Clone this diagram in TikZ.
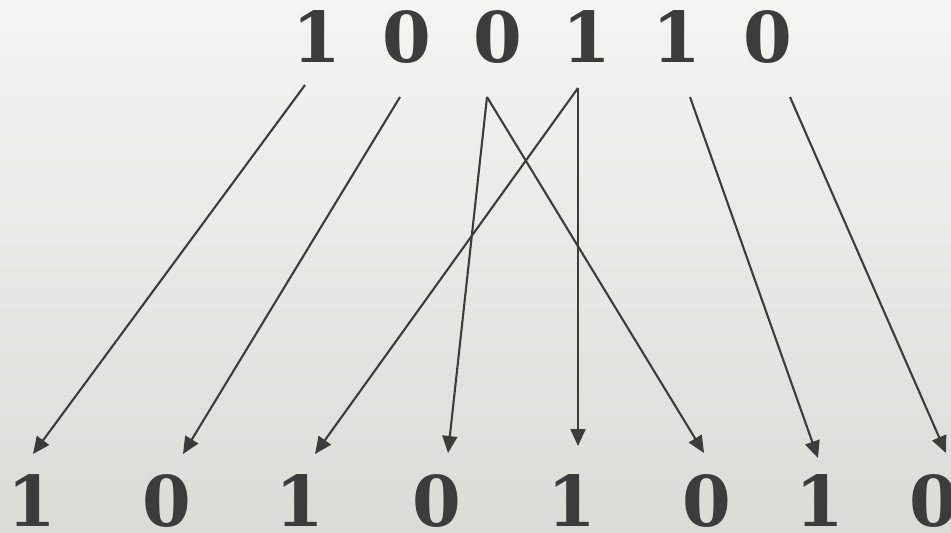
\documentclass[tikz,border=0pt]{standalone}
\usepackage{fontspec}
\setmainfont{DejaVu Serif}
\usetikzlibrary{arrows.meta}
\definecolor{ink}{HTML}{3C3C3C}
\definecolor{bgtop}{HTML}{F4F4F0}
\definecolor{bgbot}{HTML}{DCDCD7}
\tikzset{
  digit/.style={text=ink, font=\fontsize{70}{70}\selectfont\bfseries, inner sep=0pt, anchor=center},
  link/.style={draw=ink, line width=2.1pt, -{Triangle[length=17pt,width=15pt]}}
}
\begin{document}
\begin{tikzpicture}[x=1pt,y=-1pt]
\shade[top color=bgtop, bottom color=bgbot] (0,0) rectangle (951,533);
\useasboundingbox (0,0) rectangle (951,533);
% top row
\node[digit] (t1) at (317,37) {1};
\node[digit] (t2) at (407,37) {0};
\node[digit] (t3) at (498,37) {0};
\node[digit] (t4) at (587,37) {1};
\node[digit] (t5) at (677,37) {1};
\node[digit] (t6) at (768,37) {0};
% bottom row
\node[digit] (b1) at (32,501) {1};
\node[digit] (b2) at (167,501) {0};
\node[digit] (b3) at (300,501) {1};
\node[digit] (b4) at (437,501) {0};
\node[digit] (b5) at (572,501) {1};
\node[digit] (b6) at (707,501) {0};
\node[digit] (b7) at (820,501) {1};
\node[digit] (b8) at (934,501) {0};
% arrow ends
\coordinate (s1) at (305,85);
\coordinate (s2) at (400,97);
\coordinate (s3) at (487,97);
\coordinate (s4) at (578,88);
\coordinate (s5) at (690,97);
\coordinate (s6) at (790,97);
\coordinate (e1) at (33,454);
\coordinate (e2) at (183,454);
\coordinate (e3) at (315,454);
\coordinate (e4) at (448,453);
\coordinate (e5) at (578,446);
\coordinate (e6) at (704,453);
\coordinate (e7) at (818,458);
\coordinate (e8) at (946,453);
\draw[link] (s1) -- (e1);
\draw[link] (s2) -- (e2);
\draw[link] (s3) -- (e4);
\draw[link] (s3) -- (e6);
\draw[link] (s4) -- (e3);
\draw[link] (s4) -- (e5);
\draw[link] (s5) -- (e7);
\draw[link] (s6) -- (e8);
\end{tikzpicture}
\end{document}
